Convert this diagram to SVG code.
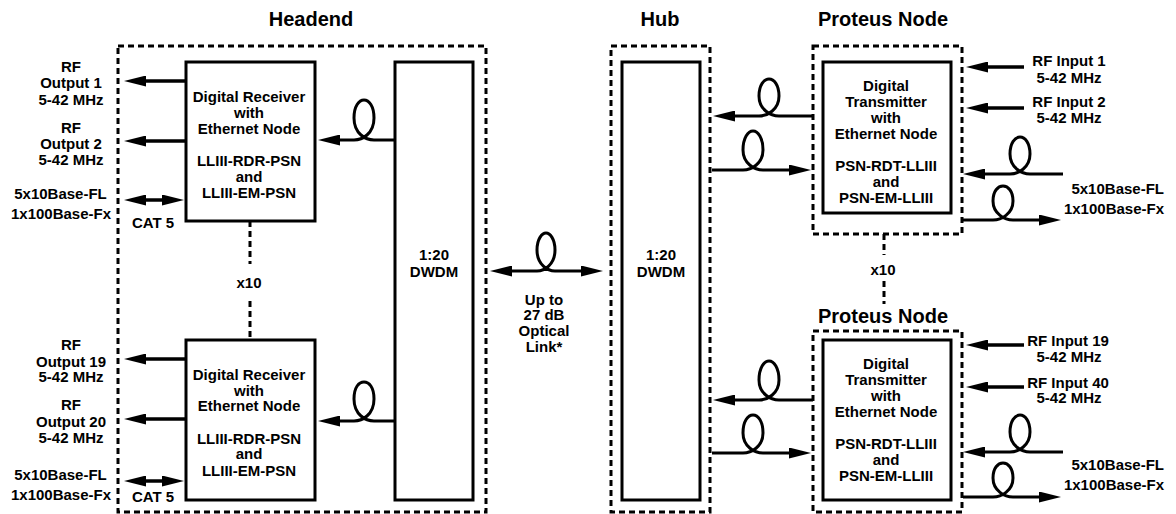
<svg xmlns="http://www.w3.org/2000/svg" width="1176" height="514" viewBox="0 0 1176 514">
<style>
.t{font-family:"Liberation Sans",Arial,sans-serif;font-weight:bold;font-size:15px;text-anchor:middle;fill:#000}
.ti{font-size:20px}
.e{text-anchor:end}
.box{fill:#fff;stroke:#000;stroke-width:3}
.dash{fill:none;stroke:#000;stroke-width:3;stroke-dasharray:6 4}
.c{fill:none;stroke:#000;stroke-width:3.5}
.f{fill:none;stroke:#000;stroke-width:3}
.ae{marker-end:url(#ah)}
.ab{marker-start:url(#ah);marker-end:url(#ah)}
</style>
<defs>
<marker id="ah" viewBox="0 0 22 11" refX="14" refY="5.5" markerWidth="22" markerHeight="11" markerUnits="userSpaceOnUse" orient="auto-start-reverse"><path d="M0,0 L22,5.5 L0,11 z" fill="#000"/></marker>
</defs>
<rect width="1176" height="514" fill="#fff"/>

<g id="headend">
<rect class="dash" x="118" y="46" width="368" height="466"/>
<text class="t ti" x="311" y="26">Headend</text>
</g>
<g id="hub">
<rect class="dash" x="611" y="46" width="99" height="466"/>
<text class="t ti" x="660" y="26">Hub</text>
</g>
<g id="proteus1">
<rect class="dash" x="813" y="46" width="149" height="188"/>
<text class="t ti" x="883" y="26">Proteus Node</text>
</g>
<g id="proteus2">
<rect class="dash" x="813" y="331" width="149" height="181"/>
<text class="t ti" x="883" y="323">Proteus Node</text>
</g>

<g id="receiver1">
<rect class="box" x="186" y="62" width="129" height="159"/>
<text class="t" x="249" y="102">Digital Receiver</text>
<text class="t" x="249" y="117.5">with</text>
<text class="t" x="249" y="133.5">Ethernet Node</text>
<text class="t" x="249" y="166">LLIII-RDR-PSN</text>
<text class="t" x="249" y="181.5">and</text>
<text class="t" x="249" y="198">LLIII-EM-PSN</text>
</g>
<g id="receiver2">
<rect class="box" x="186" y="340" width="129" height="160"/>
<text class="t" x="249" y="380">Digital Receiver</text>
<text class="t" x="249" y="395.5">with</text>
<text class="t" x="249" y="411">Ethernet Node</text>
<text class="t" x="249" y="443.5">LLIII-RDR-PSN</text>
<text class="t" x="249" y="459">and</text>
<text class="t" x="249" y="475.5">LLIII-EM-PSN</text>
</g>
<g id="dwdm-headend">
<rect class="box" x="395" y="62" width="78" height="438"/>
<text class="t" x="434" y="260">1:20</text>
<text class="t" x="434" y="276.5">DWDM</text>
</g>
<g id="dwdm-hub">
<rect class="box" x="622" y="62" width="78" height="438"/>
<text class="t" x="661" y="260">1:20</text>
<text class="t" x="661" y="276.5">DWDM</text>
</g>
<g id="transmitter1">
<rect class="box" x="823" y="62" width="128" height="151"/>
<text class="t" x="886" y="91">Digital</text>
<text class="t" x="886" y="107">Transmitter</text>
<text class="t" x="886" y="123">with</text>
<text class="t" x="886" y="139">Ethernet Node</text>
<text class="t" x="886" y="170.5">PSN-RDT-LLIII</text>
<text class="t" x="886" y="187">and</text>
<text class="t" x="886" y="203">PSN-EM-LLIII</text>
</g>
<g id="transmitter2">
<rect class="box" x="823" y="340" width="128" height="160"/>
<text class="t" x="886" y="369">Digital</text>
<text class="t" x="886" y="385">Transmitter</text>
<text class="t" x="886" y="401">with</text>
<text class="t" x="886" y="417">Ethernet Node</text>
<text class="t" x="886" y="448.5">PSN-RDT-LLIII</text>
<text class="t" x="886" y="465">and</text>
<text class="t" x="886" y="481">PSN-EM-LLIII</text>
</g>

<g id="labels">
<text class="t" x="71" y="72">RF</text>
<text class="t" x="71" y="88">Output 1</text>
<text class="t" x="71" y="104.5">5-42 MHz</text>
<text class="t" x="71" y="132.5">RF</text>
<text class="t" x="71" y="149">Output 2</text>
<text class="t" x="71" y="165">5-42 MHz</text>
<text class="t" x="60.5" y="199">5x10Base-FL</text>
<text class="t" x="61" y="219">1x100Base-Fx</text>
<text class="t" x="153" y="228">CAT 5</text>
<text class="t" x="71" y="350">RF</text>
<text class="t" x="71" y="366.5">Output 19</text>
<text class="t" x="71" y="382">5-42 MHz</text>
<text class="t" x="71" y="410">RF</text>
<text class="t" x="71" y="426.5">Output 20</text>
<text class="t" x="71" y="442.5">5-42 MHz</text>
<text class="t" x="60.5" y="480">5x10Base-FL</text>
<text class="t" x="61" y="500">1x100Base-Fx</text>
<text class="t" x="153" y="502">CAT 5</text>
<text class="t" x="249" y="288">x10</text>
<text class="t" x="883" y="274.5">x10</text>
<text class="t" x="544" y="304.5">Up to</text>
<text class="t" x="544" y="320">27 dB</text>
<text class="t" x="544" y="336">Optical</text>
<text class="t" x="544" y="352">Link*</text>
<text class="t" x="1069" y="66">RF Input 1</text>
<text class="t" x="1069" y="82.5">5-42 MHz</text>
<text class="t" x="1069" y="107">RF Input 2</text>
<text class="t" x="1069" y="123">5-42 MHz</text>
<text class="t e" x="1164" y="194">5x10Base-FL</text>
<text class="t e" x="1164" y="214">1x100Base-Fx</text>
<text class="t" x="1068" y="346">RF Input 19</text>
<text class="t" x="1069" y="361.5">5-42 MHz</text>
<text class="t" x="1068" y="387.5">RF Input 40</text>
<text class="t" x="1069" y="403">5-42 MHz</text>
<text class="t e" x="1164" y="470">5x10Base-FL</text>
<text class="t e" x="1164" y="490">1x100Base-Fx</text>
</g>

<g id="connectors">
<path class="dash" d="M250,221 V264 M250,301 V340"/>
<path class="dash" d="M884,234 V255 M884,281 V304"/>
<path class="c ae" d="M186,81 H132"/>
<path class="c ae" d="M186,141 H132"/>
<path class="c ab" d="M132,200 H176"/>
<path class="c ae" d="M186,359 H132"/>
<path class="c ae" d="M186,419 H132"/>
<path class="c ab" d="M132,481 H176"/>
<path class="f ae" d="M395,140 H374 C366,140 354,134 354,118 C354,106 359,100 364,100 C369,100 374,106 374,118 C374,134 362,140 354,140 H326"/>
<path class="f ae" d="M395,421 H374 C366,421 354,415 354,399 C354,387 359,382 364,382 C369,382 374,387 374,399 C374,415 362,421 354,421 H326"/>
<path class="f ab" d="M498,271 H537 C544,271 555,265 555,250 C555,239 550,233 546,233 C542,233 537,239 537,250 C537,265 548,271 555,271 H595"/>
<path class="f ae" d="M813,116 H779 C771,116 759,110 759,96 C759,85 764,79 769,79 C774,79 779,85 779,96 C779,110 767,116 759,116 H721"/>
<path class="f ae" d="M712,170 H743 C751,170 763,164 763,150 C763,138 758,131 753,131 C748,131 743,138 743,150 C743,164 755,170 763,170 H803"/>
<path class="f ae" d="M813,400 H779 C771,400 759,394 759,380 C759,368 764,361 769,361 C774,361 779,368 779,380 C779,394 767,400 759,400 H721"/>
<path class="f ae" d="M712,453 H743 C751,453 763,447 763,433 C763,421 758,415 753,415 C748,415 743,421 743,433 C743,447 755,453 763,453 H803"/>
<path class="c ae" d="M1024,67 H974"/>
<path class="c ae" d="M1024,108 H974"/>
<path class="f ae" d="M1063,174 H1030 C1022,174 1010,168 1010,154 C1010,143 1015,137 1020,137 C1025,137 1030,143 1030,154 C1030,168 1018,174 1010,174 H971"/>
<path class="f ae" d="M963,220 H993 C1001,220 1013,214 1013,201 C1013,191 1008,186 1003,186 C998,186 993,191 993,201 C993,214 1005,220 1013,220 H1053"/>
<path class="c ae" d="M1024,345 H974"/>
<path class="c ae" d="M1024,387 H974"/>
<path class="f ae" d="M1063,452 H1030 C1022,452 1010,446 1010,432 C1010,421 1015,415 1020,415 C1025,415 1030,421 1030,432 C1030,446 1018,452 1010,452 H971"/>
<path class="f ae" d="M963,497 H993 C1001,497 1013,491 1013,478 C1013,468 1008,463 1003,463 C998,463 993,468 993,478 C993,491 1005,497 1013,497 H1053"/>
</g>
</svg>
